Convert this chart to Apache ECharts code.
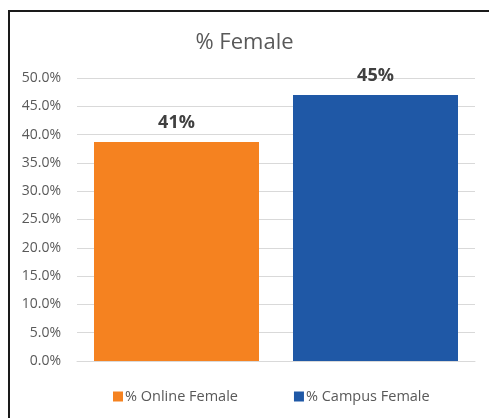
<!DOCTYPE html>
<html>
<head>
<meta charset="utf-8">
<script src="https://cdn.jsdelivr.net/npm/echarts@6/dist/echarts.min.js"></script>
<style>
  html, body { margin: 0; padding: 0; background: #fff; }
  .frame {
    position: absolute;
    left: 8px;
    top: 10px;
    width: 481px;
    height: 408px;
    border-top: 2px solid #1a1a1a;
    border-left: 2px solid #1a1a1a;
    box-sizing: border-box;
  }
  #chart { position: absolute; left: 0; top: 0; width: 489px; height: 418px; }
</style>
</head>
<body>
<div class="frame"></div>
<div id="chart"></div>
<script>
const categories = ['Online', 'Campus']
const seriesNames = ['% Online Female', '% Campus Female']
const onlineValues = [38.7, '-']
const campusValues = ['-', 47.0]
const barLabels = ['41%', '45%']
const colors = ['#F58220', '#1F58A6']

const chart = echarts.init(document.getElementById('chart'))

const labelStyle = (idx) => ({
  show: true,
  position: 'top',
  distance: 10,
  formatter: () => barLabels[idx],
  color: '#404040',
  fontSize: 18,
  fontWeight: 'bold',
  fontFamily: 'Open Sans'
})

chart.setOption({
  animation: false,
  title: {
    text: '% Female',
    left: 'center',
    top: 27,
    textStyle: {
      color: '#595959',
      fontSize: 22,
      fontWeight: 'normal',
      fontFamily: 'Open Sans'
    }
  },
  legend: {
    bottom: 9,
    left: 108,
    itemGap: 56,
    itemWidth: 10,
    itemHeight: 10,
    icon: 'rect',
    textStyle: { color: '#595959', fontSize: 14.5, fontFamily: 'Open Sans', padding: [0, 0, 0, -3] },
    data: seriesNames
  },
  grid: {
    left: 77,
    right: 14,
    top: 78,
    bottom: 57
  },
  xAxis: {
    type: 'category',
    data: categories,
    axisLine: { lineStyle: { color: '#d9d9d9' } },
    axisTick: { show: false },
    axisLabel: { show: false }
  },
  yAxis: {
    type: 'value',
    min: 0,
    max: 50,
    interval: 5,
    axisLabel: {
      formatter: (v) => v.toFixed(1) + '%',
      color: '#595959',
      fontSize: 14,
      fontFamily: 'Open Sans',
      margin: 16
    },
    axisLine: { show: false },
    axisTick: { show: false },
    splitLine: { lineStyle: { color: '#d9d9d9' } }
  },
  series: [
    {
      name: seriesNames[0],
      type: 'bar',
      stack: 'all',
      barWidth: 165,
      itemStyle: { color: colors[0] },
      label: labelStyle(0),
      data: onlineValues
    },
    {
      name: seriesNames[1],
      type: 'bar',
      stack: 'all',
      barWidth: 165,
      itemStyle: { color: colors[1] },
      label: labelStyle(1),
      data: campusValues
    }
  ]
})
</script>
</body>
</html>
